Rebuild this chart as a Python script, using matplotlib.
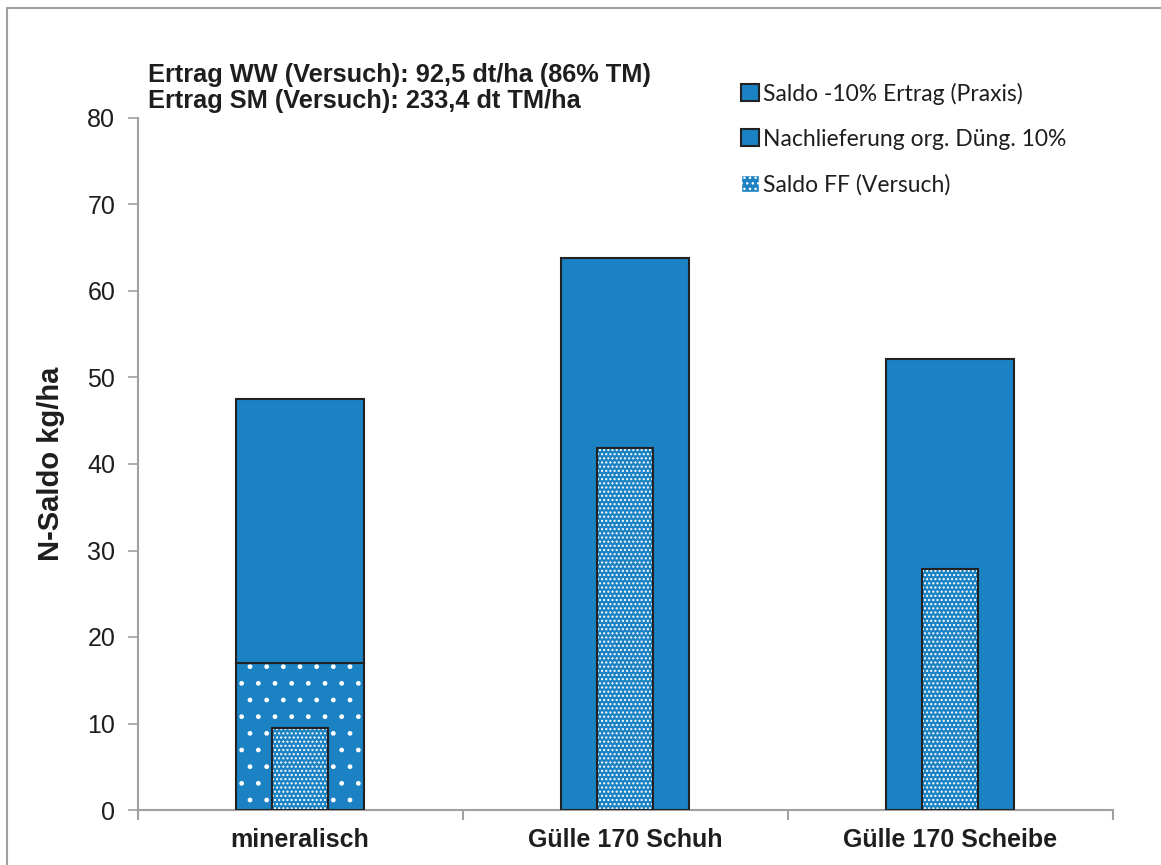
import matplotlib
matplotlib.use("Agg")
import matplotlib.pyplot as plt
from matplotlib.patches import Rectangle, Patch
import numpy as np

categories = ["mineralisch", "Gülle 170 Schuh", "Gülle 170 Scheibe"]
nachlieferung = [17.0, 0.0, 0.0]          # bottom stack (sparse dots)
saldo_praxis = [30.5, 63.8, 52.1]         # top stack (solid)
saldo_ff = [9.5, 41.8, 27.9]              # narrow bar (dense dots)
yticks = [0, 10, 20, 30, 40, 50, 60, 70, 80]
legend_labels = ["Saldo -10% Ertrag (Praxis)", "Nachlieferung org. Düng. 10%", "Saldo FF (Versuch)"]
note_lines = ["Ertrag WW (Versuch): 92,5 dt/ha (86% TM)", "Ertrag SM (Versuch): 233,4 dt TM/ha"]

BLUE = "#1b82c3"
EDGE = "#222222"
GRAY = "#a0a0a0"
TXT = "#1e1e1e"

plt.rcParams['font.family'] = ['Liberation Sans', 'DejaVu Sans']
plt.rcParams['hatch.linewidth'] = 1.0

fig = plt.figure(figsize=(11.61, 8.65), dpi=100)
ax = fig.add_axes([137.5/1161, 55/865, (1112.5-137.5)/1161, (810-118)/865])

x = np.arange(len(categories))
wide = 0.394
narrow = 0.17

# bottom stack: Nachlieferung (sparse dots)
ax.bar(x, nachlieferung, width=wide, color=BLUE, edgecolor="white", hatch=".", linewidth=0, zorder=2)
ax.bar(x, nachlieferung, width=wide, fill=False, edgecolor=EDGE, linewidth=1.5, zorder=3)
# top stack: Saldo Praxis (solid)
ax.bar(x, saldo_praxis, width=wide, bottom=nachlieferung, color=BLUE, edgecolor=EDGE, linewidth=1.5, zorder=3)
# narrow: Saldo FF (dense dots)
ax.bar(x, saldo_ff, width=narrow, color=BLUE, edgecolor="white", hatch="....", linewidth=0, zorder=4)
ax.bar(x, saldo_ff, width=narrow, fill=False, edgecolor=EDGE, linewidth=1.5, zorder=5)

ax.set_xlim(-0.5, 2.5)
ax.set_ylim(0, 80)
ax.set_yticks(yticks)
ax.set_yticklabels([str(v) for v in yticks], fontsize=18, color=TXT)
ax.set_xticks(x)
ax.set_xticklabels(categories, fontsize=18, fontweight="bold", color=TXT)
ax.tick_params(axis="x", length=0, pad=13)
ax.tick_params(axis="y", length=7, width=1.2, color=GRAY, pad=9)
ax.set_xticks([-0.5, 0.5, 1.5, 2.5], minor=True)
ax.tick_params(axis="x", which="minor", length=7, width=1.5, color=GRAY, direction="out")
ax.spines["top"].set_visible(False)
ax.spines["right"].set_visible(False)
ax.spines["left"].set_color(GRAY)
ax.spines["bottom"].set_color(GRAY)
ax.spines["left"].set_linewidth(1.5)
ax.spines["bottom"].set_linewidth(1.5)

ax.set_ylabel("N-Saldo kg/ha", fontsize=21, fontweight="bold", color=TXT, labelpad=16)

fig.text(148/1161, 1 - 75/865, note_lines[0], fontsize=18.3, fontweight="bold", color=TXT, va="center")
fig.text(148/1161, 1 - 101/865, note_lines[1], fontsize=18.3, fontweight="bold", color=TXT, va="center")

handles = [
    Patch(facecolor=BLUE, edgecolor=EDGE, linewidth=1.5),
    Patch(facecolor=BLUE, edgecolor=EDGE, linewidth=1.5),
    Patch(facecolor=BLUE, edgecolor="white", hatch="...", linewidth=1.0),
]
leg = fig.legend(handles, legend_labels, loc="upper left", bbox_to_anchor=(730/1161, 1 - 71/865),
                 frameon=False, prop={"family": "Lato", "size": 16.5}, handlelength=0.75, handleheight=0.75,
                 handletextpad=0.2, labelspacing=1.05, borderpad=0)
for t in leg.get_texts():
    t.set_color(TXT)

# figure border
fig.add_artist(Rectangle((7/1161, -0.05), 1.2, 1 - 8/865 + 0.05, transform=fig.transFigure,
                         fill=False, edgecolor=GRAY, linewidth=1.5))

fig.savefig("out.png", dpi=100)
